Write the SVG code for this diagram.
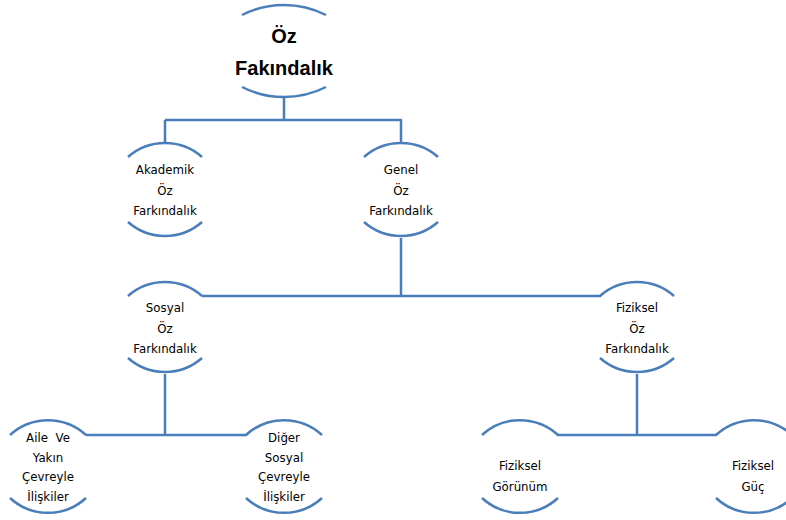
<svg xmlns="http://www.w3.org/2000/svg" width="786" height="520" viewBox="0 0 786 520">
<style>
.arc{fill:none;stroke:#4a7ebb;stroke-width:2.5}
.con{fill:none;stroke:#4a7ebb;stroke-width:2.5}
.t{font-family:"DejaVu Sans",Verdana,sans-serif;font-size:11.8px;fill:#000;text-anchor:middle}
.tb{font-family:"Liberation Sans",Arial,sans-serif;font-size:20px;font-weight:bold;fill:#000;text-anchor:middle}
</style>
<rect width="786" height="520" fill="#fff"/>
<g id="connectors">
<path class="con" d="M284,98 V120 M165,120 H402 M165,120 V143 M401,120 V143"/>
<path class="con" d="M401,238 V296 M202,296 H601"/>
<path class="con" d="M165,374 V435 M86,435 H247"/>
<path class="con" d="M637,374 V435 M557,435 H717"/>
</g>
<g id="n-oz">
<path class="arc" d="M242,15 A93,93 0 0,1 326,15 M242,87 A93,93 0 0,0 326,87"/>
<text class="tb" x="284" y="43">Öz</text>
<text class="tb" x="284" y="75">Fakındalık</text>
</g>
<g id="n-akademik">
<path class="arc" d="M128,157 A56,56 0 0,1 202,157 M128,222 A56,56 0 0,0 202,222"/>
<text class="t" x="165" y="174">Akademik</text>
<text class="t" x="165" y="195">Öz</text>
<text class="t" x="165" y="215">Farkındalık</text>
</g>
<g id="n-genel">
<path class="arc" d="M364,157 A56,56 0 0,1 438,157 M364,222 A56,56 0 0,0 438,222"/>
<text class="t" x="401" y="174">Genel</text>
<text class="t" x="401" y="195">Öz</text>
<text class="t" x="401" y="215">Farkındalık</text>
</g>
<g id="n-sosyal">
<path class="arc" d="M128,296 A56,56 0 0,1 202,296 M128,358 A56,56 0 0,0 202,358"/>
<text class="t" x="165" y="312">Sosyal</text>
<text class="t" x="165" y="333">Öz</text>
<text class="t" x="165" y="353">Farkındalık</text>
</g>
<g id="n-fiziksel-oz">
<path class="arc" d="M600,296 A56,56 0 0,1 674,296 M600,358 A56,56 0 0,0 674,358"/>
<text class="t" x="637" y="312">Fiziksel</text>
<text class="t" x="637" y="333">Öz</text>
<text class="t" x="637" y="353">Farkındalık</text>
</g>
<g id="n-aile">
<path class="arc" d="M10,435 A56,56 0 0,1 86,435 M10,498 A56,56 0 0,0 86,498"/>
<text class="t" x="48" y="442" xml:space="preserve">Aile  Ve</text>
<text class="t" x="48" y="462">Yakın</text>
<text class="t" x="48" y="481">Çevreyle</text>
<text class="t" x="48" y="501">İlişkiler</text>
</g>
<g id="n-diger">
<path class="arc" d="M246,435 A56,56 0 0,1 322,435 M246,498 A56,56 0 0,0 322,498"/>
<text class="t" x="284" y="442">Diğer</text>
<text class="t" x="284" y="462">Sosyal</text>
<text class="t" x="284" y="481">Çevreyle</text>
<text class="t" x="284" y="501">İlişkiler</text>
</g>
<g id="n-gorunum">
<path class="arc" d="M482,435 A56,56 0 0,1 558,435 M482,498 A56,56 0 0,0 558,498"/>
<text class="t" x="520" y="470">Fiziksel</text>
<text class="t" x="520" y="491">Görünüm</text>
</g>
<g id="n-guc">
<path class="arc" d="M716,435 A56,56 0 0,1 792,435 M716,498 A56,56 0 0,0 792,498"/>
<text class="t" x="753" y="470">Fiziksel</text>
<text class="t" x="753" y="491">Güç</text>
</g>
</svg>
